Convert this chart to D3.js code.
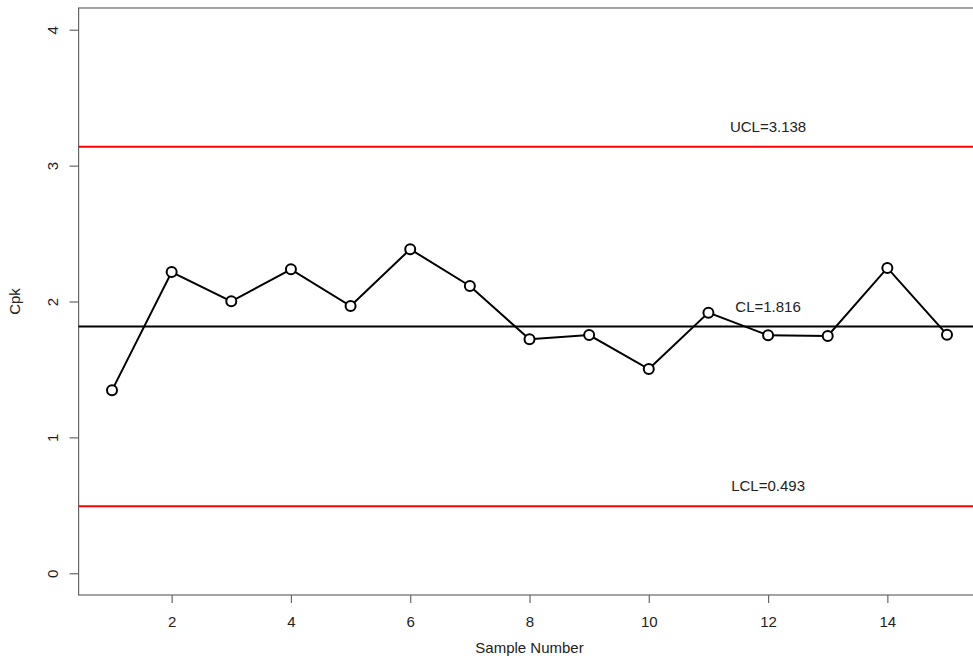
<!DOCTYPE html>
<html>
<head>
<meta charset="utf-8">
<script src="https://cdn.jsdelivr.net/npm/d3@7"></script>
<style>
  html, body { margin: 0; padding: 0; background: #fff; overflow: hidden; }
  svg { display: block; font-family: "Liberation Sans", Arial, sans-serif; }
</style>
</head>
<body>
<div id="chart"></div>
<script>
// ---- data ----
const samples = [1, 2, 3, 4, 5, 6, 7, 8, 9, 10, 11, 12, 13, 14, 15];
const cpk = [1.346, 2.217, 2.001, 2.237, 1.967, 2.385, 2.114, 1.722, 1.753, 1.503, 1.918, 1.751, 1.746, 2.247, 1.756];
const limitNames = ["UCL", "CL", "LCL"];
const limitValues = [3.138, 1.816, 0.493];
const limitColors = ["#ff0000", "#000000", "#ff0000"];
const limitLabelX = 12;
const xTicks = [2, 4, 6, 8, 10, 12, 14];
const yTicks = [0, 1, 2, 3, 4];
const xTitle = "Sample Number";
const yTitle = "Cpk";

// ---- layout ----
const W = 973, H = 666;
const mLeft = 78.6, mRight = 980.4, mTop = 8, mBottom = 595;
const fs = 15;
const textColor = "#222";
const axisColor = "#666";

const svg = d3.select("#chart").append("svg")
  .attr("width", W).attr("height", H);

const x = d3.scaleLinear().domain([0.44, 15.56]).range([mLeft, mRight]);
const y = d3.scaleLinear().domain([-0.16, 4.16]).range([mBottom, mTop]);

// plot box
svg.append("rect")
  .attr("x", mLeft).attr("y", mTop)
  .attr("width", mRight - mLeft).attr("height", mBottom - mTop)
  .attr("fill", "none").attr("stroke", axisColor).attr("stroke-width", 1.2);

// x axis
const xAxis = svg.append("g").attr("transform", `translate(0,${mBottom})`)
  .call(d3.axisBottom(x).tickValues(xTicks).tickSize(8).tickPadding(0).tickFormat(d3.format("d")));
xAxis.select(".domain").remove();
xAxis.selectAll(".tick line").attr("stroke", axisColor).attr("stroke-width", 1.2);
xAxis.selectAll(".tick text")
  .attr("y", 32).attr("dy", null)
  .attr("font-size", fs).attr("font-family", "Liberation Sans, Arial, sans-serif")
  .attr("fill", textColor);

// y axis
const yAxis = svg.append("g").attr("transform", `translate(${mLeft},0)`)
  .call(d3.axisLeft(y).tickValues(yTicks).tickSize(9).tickPadding(0).tickFormat(d3.format("d")));
yAxis.select(".domain").remove();
yAxis.selectAll(".tick line").attr("stroke", axisColor).attr("stroke-width", 1.2);
yAxis.selectAll(".tick text")
  .attr("x", null).attr("dy", null)
  .attr("transform", "translate(-21,0) rotate(-90)")
  .attr("text-anchor", "middle")
  .attr("font-size", fs).attr("font-family", "Liberation Sans, Arial, sans-serif")
  .attr("fill", textColor);

// axis titles
svg.append("text")
  .attr("x", (mLeft + mRight) / 2).attr("y", 653)
  .attr("text-anchor", "middle").attr("font-size", fs).attr("fill", textColor)
  .text(xTitle);
svg.append("text")
  .attr("transform", `translate(20,${(mTop + mBottom) / 2}) rotate(-90)`)
  .attr("text-anchor", "middle").attr("font-size", fs).attr("fill", textColor)
  .text(yTitle);

// control limit lines
const plot = svg.append("g");
plot.selectAll("line.limit").data(limitValues).join("line")
  .attr("class", "limit")
  .attr("x1", mLeft).attr("x2", mRight)
  .attr("y1", d => y(d)).attr("y2", d => y(d))
  .attr("stroke", (d, i) => limitColors[i]).attr("stroke-width", 2);

plot.selectAll("text.limit").data(limitValues).join("text")
  .attr("class", "limit")
  .attr("x", x(limitLabelX)).attr("y", d => y(d) - 15)
  .attr("text-anchor", "middle").attr("font-size", fs).attr("fill", textColor)
  .text((d, i) => `${limitNames[i]}=${d3.format(".3f")(d)}`);

// data line
const pts = samples.map((s, i) => [s, cpk[i]]);
plot.append("path")
  .datum(pts)
  .attr("fill", "none").attr("stroke", "#000").attr("stroke-width", 2)
  .attr("d", d3.line().x(d => x(d[0])).y(d => y(d[1])));

plot.selectAll("circle").data(pts).join("circle")
  .attr("cx", d => x(d[0])).attr("cy", d => y(d[1]))
  .attr("r", 5)
  .attr("fill", "#fff").attr("stroke", "#000").attr("stroke-width", 2);
</script>
</body>
</html>
